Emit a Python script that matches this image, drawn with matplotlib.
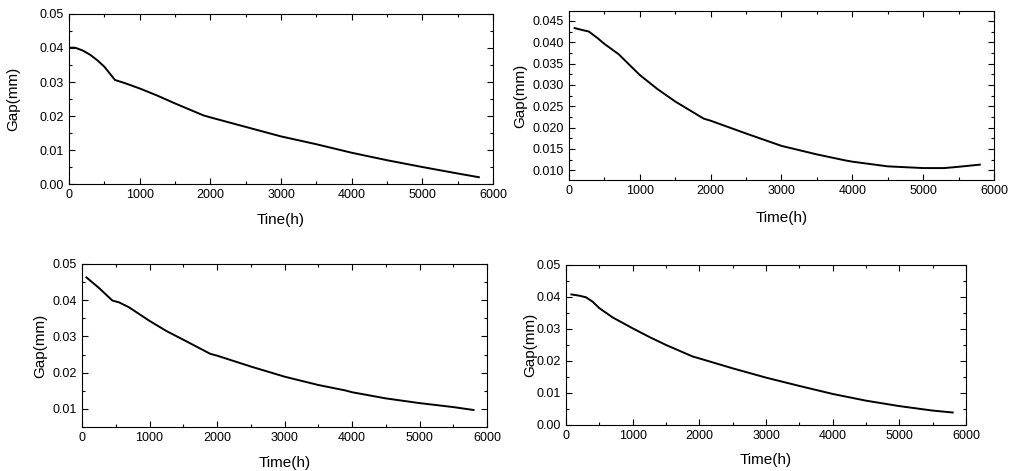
import numpy as np
import matplotlib.pyplot as plt
from matplotlib.ticker import MultipleLocator, FormatStrFormatter

plt.rcParams['font.family'] = ['Liberation Sans', 'DejaVu Sans']

# Panel data (time in h, gap in mm)
t1 = [0, 70, 100, 200, 300, 400, 500, 650, 800, 1000, 1250, 1500, 1900, 2000, 2500, 3000, 3500, 3900, 4000, 4500, 5000, 5500, 5800]
g1 = [0.0401, 0.0401, 0.0400, 0.0392, 0.0380, 0.0364, 0.0345, 0.0306, 0.0296, 0.0281, 0.0260, 0.0237, 0.0202, 0.0196, 0.0168, 0.0140, 0.0117, 0.0097, 0.0092, 0.0070, 0.0050, 0.0031, 0.0020]

t2 = [80, 200, 280, 400, 500, 700, 1000, 1250, 1500, 1900, 2000, 2500, 3000, 3500, 3900, 4000, 4500, 5000, 5300, 5500, 5800]
g2 = [0.0433, 0.0428, 0.0425, 0.0410, 0.0396, 0.0372, 0.0323, 0.0290, 0.0261, 0.0221, 0.0216, 0.0186, 0.0157, 0.0137, 0.0123, 0.0120, 0.0109, 0.0105, 0.0105, 0.0108, 0.0113]

t3 = [65, 250, 450, 550, 700, 1000, 1250, 1500, 1900, 2000, 2500, 3000, 3500, 3900, 4000, 4500, 5000, 5500, 5800]
g3 = [0.0463, 0.0434, 0.0399, 0.0394, 0.0380, 0.0343, 0.0315, 0.0291, 0.0252, 0.0247, 0.0217, 0.0189, 0.0166, 0.0151, 0.0146, 0.0129, 0.0116, 0.0105, 0.0097]

t4 = [80, 200, 300, 400, 500, 700, 1000, 1250, 1500, 1900, 2000, 2500, 3000, 3500, 3900, 4000, 4500, 5000, 5500, 5800]
g4 = [0.0408, 0.0404, 0.0399, 0.0385, 0.0365, 0.0336, 0.0302, 0.0275, 0.0250, 0.0214, 0.0208, 0.0177, 0.0148, 0.0122, 0.0102, 0.0097, 0.0076, 0.0059, 0.0045, 0.0039]

fig = plt.figure(figsize=(10.09, 4.71), dpi=100)

panels = [
    # rect, t, g, ylim, ymajor, fmt, xlabel, xpad, ypad
    ([0.0684, 0.6093, 0.4202, 0.361], t1, g1, (0.0, 0.05), 0.01, '%.2f', 'Tine(h)', 9, 14),
    ([0.5639, 0.6178, 0.4212, 0.3588], t2, g2, (0.0077, 0.0473), 0.005, '%.3f', 'Time(h)', 10, 4),
    ([0.0813, 0.0934, 0.4014, 0.3461], t3, g3, (0.005, 0.05), 0.01, '%.2f', 'Time(h)', 9, 4),
    ([0.5610, 0.0977, 0.3964, 0.3397], t4, g4, (0.0, 0.05), 0.01, '%.2f', 'Time(h)', 8, 0),
]

for rect, t, g, ylim, ymaj, fmt, xl, xpad, ypad in panels:
    ax = fig.add_axes(rect)
    ax.plot(t, g, color='black', lw=1.4)
    ax.set_xlim(0, 6000)
    ax.set_ylim(*ylim)
    ax.xaxis.set_major_locator(MultipleLocator(1000))
    ax.xaxis.set_minor_locator(MultipleLocator(500))
    ax.yaxis.set_major_locator(MultipleLocator(ymaj))
    ax.yaxis.set_minor_locator(MultipleLocator(ymaj / 2))
    ax.yaxis.set_major_formatter(FormatStrFormatter(fmt))
    ax.tick_params(which='both', direction='in', top=True, right=True, labelsize=9, width=0.8)
    ax.tick_params(which='major', length=4)
    ax.tick_params(which='minor', length=2.5)
    for s in ax.spines.values():
        s.set_linewidth(0.8)
    ax.set_xlabel(xl, fontsize=11, labelpad=xpad)
    ax.set_ylabel('Gap(mm)', fontsize=11, labelpad=ypad)

fig.savefig('out.png', dpi=100)
